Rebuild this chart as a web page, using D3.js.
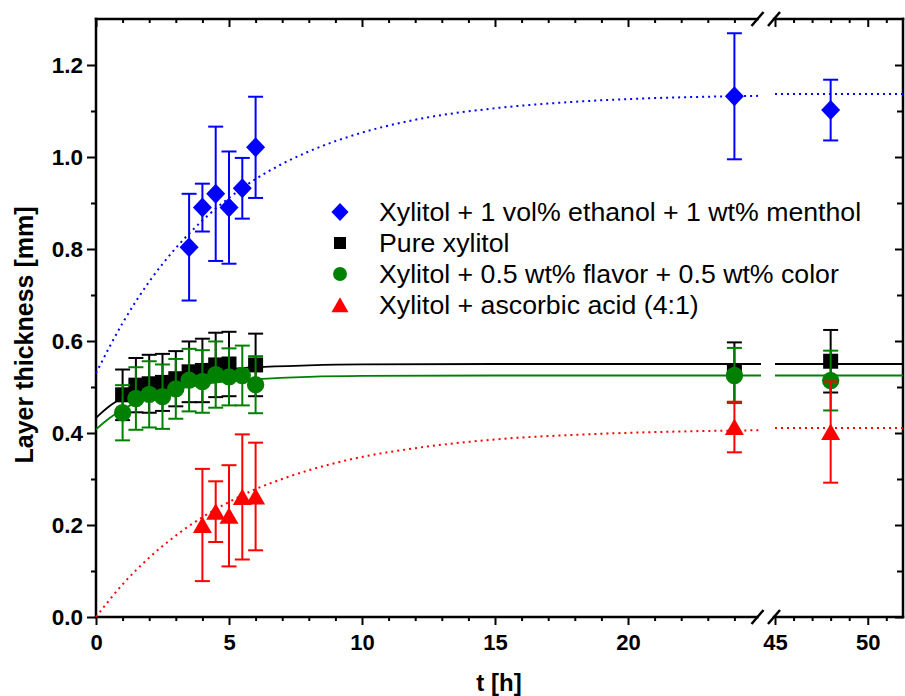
<!DOCTYPE html>
<html>
<head>
<meta charset="utf-8">
<script src="https://cdnjs.cloudflare.com/ajax/libs/d3/7.8.5/d3.min.js"></script>
<style>
  body { margin: 0; background: #fff; }
  svg text { font-family: "Liberation Sans", Arial, sans-serif; fill: #000; }
</style>
</head>
<body>
<div id="chart"></div>
<script>
// measured points (t in hours, thickness in mm, error = half length of bar)
var blueT = [3.5, 4, 4.5, 5, 5.5, 6, 24, 48];
var blueY = [0.804, 0.890, 0.920, 0.890, 0.932, 1.021, 1.132, 1.102];
var blueErr = [0.116, 0.052, 0.146, 0.122, 0.066, 0.110, 0.137, 0.066];

var blackT = [1, 1.5, 2, 2.5, 3, 3.5, 4, 4.5, 5, 6, 24, 48];
var blackY = [0.483, 0.504, 0.507, 0.510, 0.518, 0.533, 0.536, 0.548, 0.550, 0.548, 0.532, 0.556];
var blackErr = [0.055, 0.059, 0.063, 0.062, 0.060, 0.066, 0.069, 0.070, 0.070, 0.068, 0.065, 0.068];

var greenT = [1, 1.5, 2, 2.5, 3, 3.5, 4, 4.5, 5, 5.5, 6, 24, 48];
var greenY = [0.444, 0.475, 0.484, 0.479, 0.496, 0.515, 0.512, 0.527, 0.522, 0.525, 0.505, 0.525, 0.514];
var greenErr = [0.060, 0.068, 0.072, 0.070, 0.065, 0.068, 0.068, 0.072, 0.062, 0.065, 0.062, 0.060, 0.065];

var redT = [4, 4.5, 5, 5.5, 6, 24, 48];
var redY = [0.200, 0.229, 0.220, 0.261, 0.262, 0.413, 0.402];
var redErr = [0.122, 0.066, 0.110, 0.136, 0.117, 0.055, 0.110];

// fit curves
var fitLeftT = [0, 1, 2, 3, 4, 5, 6, 7, 8, 10, 12, 15, 18, 21, 25];
var fitBlueY = [0.530, 0.639, 0.729, 0.802, 0.862, 0.911, 0.952, 0.985, 1.012, 1.053, 1.081, 1.106, 1.120, 1.128, 1.133];
var fitRedY = [0.000, 0.071, 0.129, 0.177, 0.217, 0.250, 0.278, 0.300, 0.319, 0.348, 0.367, 0.386, 0.396, 0.402, 0.406];
var fitSolidT = [0, 0.5, 1, 1.5, 2, 3, 4, 5, 6, 8, 10, 15, 25];
var fitBlackY = [0.433, 0.458, 0.477, 0.493, 0.505, 0.522, 0.533, 0.539, 0.543, 0.547, 0.549, 0.550, 0.550];
var fitGreenY = [0.408, 0.432, 0.451, 0.466, 0.478, 0.495, 0.506, 0.513, 0.517, 0.522, 0.524, 0.525, 0.525];
var fitRightT = [45, 51.9];
var fitRightBlue = [1.137, 1.137];
var fitRightBlack = [0.550, 0.550];
var fitRightGreen = [0.525, 0.525];
var fitRightRed = [0.411, 0.411];

var legendLabels = [
  "Xylitol + 1 vol% ethanol + 1 wt% menthol",
  "Pure xylitol",
  "Xylitol + 0.5 wt% flavor + 0.5 wt% color",
  "Xylitol + ascorbic acid (4:1)"
];

var svgWidth = 905;
var svgHeight = 696;

var plotLeft = 96, plotRight = 903, plotTop = 19, plotBottom = 617;
var breakA = 757.5, breakB = 774;

var svg = d3.select("#chart")
  .append("svg")
  .attr("width", svgWidth)
  .attr("height", svgHeight);

// broken x axis: two linear pieces
var xLeft = d3.scaleLinear().domain([0, 25]).range([plotLeft, 761]);
var xRight = d3.scaleLinear().domain([45, 51.9]).range([775, plotRight]);
var yScale = d3.scaleLinear().domain([0, 1.3]).range([plotBottom, plotTop]);

function xOf(t) { return t <= 25 ? xLeft(t) : xRight(t); }

function styleAxis(g, fontSize) {
  g.select(".domain").remove();
  g.selectAll(".tick line").attr("stroke", "#000").attr("stroke-width", 2);
  g.selectAll(".tick text")
    .attr("font-family", "'Liberation Sans', Arial, sans-serif")
    .attr("font-weight", "bold")
    .attr("font-size", fontSize);
}

var notFive = function(d) { return d % 5 !== 0; };

// bottom axis
[[xLeft, [0, 5, 10, 15, 20], d3.range(1, 25).filter(notFive)],
 [xRight, [45, 50], [46, 47, 48, 49, 51]]].forEach(function(p) {
  svg.append("g")
    .attr("transform", `translate(0, ${plotBottom})`)
    .call(d3.axisBottom(p[0]).tickValues(p[1]).tickSize(8).tickPadding(9).tickFormat(d3.format("d")))
    .call(styleAxis, "22px");
  svg.append("g")
    .attr("transform", `translate(0, ${plotBottom})`)
    .call(d3.axisBottom(p[0]).tickValues(p[2]).tickSize(4).tickFormat(""))
    .call(styleAxis, "22px");
  // top mirror, ticks pointing in
  svg.append("g")
    .attr("transform", `translate(0, ${plotTop})`)
    .call(d3.axisBottom(p[0]).tickValues(p[1]).tickSize(8).tickFormat(""))
    .call(styleAxis, "22px");
  svg.append("g")
    .attr("transform", `translate(0, ${plotTop})`)
    .call(d3.axisBottom(p[0]).tickValues(p[2]).tickSize(4).tickFormat(""))
    .call(styleAxis, "22px");
});

var yMajor = [0, 0.2, 0.4, 0.6, 0.8, 1.0, 1.2];
var yMinor = [0.1, 0.3, 0.5, 0.7, 0.9, 1.1];

svg.append("g")
  .attr("transform", `translate(${plotLeft}, 0)`)
  .call(d3.axisLeft(yScale).tickValues(yMajor).tickSize(9).tickPadding(4).tickFormat(d3.format(".1f")))
  .call(styleAxis, "22.5px");
svg.append("g")
  .attr("transform", `translate(${plotLeft}, 0)`)
  .call(d3.axisLeft(yScale).tickValues(yMinor).tickSize(5).tickFormat(""))
  .call(styleAxis, "22px");
svg.append("g")
  .attr("transform", `translate(${plotRight}, 0)`)
  .call(d3.axisLeft(yScale).tickValues(yMajor).tickSize(8).tickFormat(""))
  .call(styleAxis, "22px");
svg.append("g")
  .attr("transform", `translate(${plotRight}, 0)`)
  .call(d3.axisLeft(yScale).tickValues(yMinor).tickSize(6).tickFormat(""))
  .call(styleAxis, "22px");

// frame
var frame = svg.append("g")
  .attr("stroke", "#000")
  .attr("stroke-width", 2.5)
  .attr("stroke-linecap", "square");
frame.append("line").attr("x1", plotLeft).attr("x2", plotLeft).attr("y1", plotTop).attr("y2", plotBottom);
frame.append("line").attr("x1", plotRight).attr("x2", plotRight).attr("y1", plotTop).attr("y2", plotBottom);
[plotTop, plotBottom].forEach(function(yy) {
  frame.append("line").attr("x1", plotLeft).attr("x2", breakA).attr("y1", yy).attr("y2", yy);
  frame.append("line").attr("x1", breakB).attr("x2", plotRight).attr("y1", yy).attr("y2", yy);
  [breakA, breakB].forEach(function(bx) {
    frame.append("line")
      .attr("stroke-linecap", "butt")
      .attr("x1", bx - 6).attr("y1", yy + 7)
      .attr("x2", bx + 6).attr("y2", yy - 7);
  });
});

// fit curves
var line = d3.line()
  .x(d => xOf(d[0]))
  .y(d => yScale(d[1]))
  .curve(d3.curveMonotoneX);

var fits = [
  {t: fitLeftT, y: fitBlueY, r: fitRightBlue, color: "#0000ff", dash: "2,4"},
  {t: fitSolidT, y: fitBlackY, r: fitRightBlack, color: "#000000", dash: null},
  {t: fitSolidT, y: fitGreenY, r: fitRightGreen, color: "#008000", dash: null},
  {t: fitLeftT, y: fitRedY, r: fitRightRed, color: "#ff0000", dash: "2,4"}
];

fits.forEach(function(f) {
  var left = f.t.map((t, i) => [t, f.y[i]]);
  var right = fitRightT.map((t, i) => [t, f.r[i]]);
  [left, right].forEach(function(pts) {
    svg.append("path")
      .datum(pts)
      .attr("d", line)
      .attr("fill", "none")
      .attr("stroke", f.color)
      .attr("stroke-width", f.dash ? 2 : 1.8)
      .attr("stroke-dasharray", f.dash);
  });
});

// marker shapes
function markerPath(shape) {
  if (shape === "diamond") return "M0,-10L9.5,0L0,10L-9.5,0Z";
  if (shape === "square") return "M-7.5,-7.5H7.5V7.5H-7.5Z";
  if (shape === "triangle") return "M0,-8.5L9.5,8L-9.5,8Z";
  return "M-8.7,0A8.7,8.7 0 1,0 8.7,0A8.7,8.7 0 1,0 -8.7,0Z";
}

var series = [
  {t: blueT, y: blueY, e: blueErr, color: "#0000ff", shape: "diamond"},
  {t: blackT, y: blackY, e: blackErr, color: "#000000", shape: "square"},
  {t: greenT, y: greenY, e: greenErr, color: "#008000", shape: "circle"},
  {t: redT, y: redY, e: redErr, color: "#ff0000", shape: "triangle"}
];

series.forEach(function(s) {
  var data = s.t.map((t, i) => ({t: t, v: s.y[i], e: s.e[i]}));
  var g = svg.append("g");

  var bars = g.selectAll(".bar")
    .data(data)
    .enter()
    .append("g")
    .attr("stroke", s.color)
    .attr("stroke-width", 2);
  bars.append("line")
    .attr("x1", d => xOf(d.t)).attr("x2", d => xOf(d.t))
    .attr("y1", d => yScale(d.v + d.e)).attr("y2", d => yScale(d.v - d.e));
  bars.append("line")
    .attr("x1", d => xOf(d.t) - 7.5).attr("x2", d => xOf(d.t) + 7.5)
    .attr("y1", d => yScale(d.v + d.e)).attr("y2", d => yScale(d.v + d.e));
  bars.append("line")
    .attr("x1", d => xOf(d.t) - 7.5).attr("x2", d => xOf(d.t) + 7.5)
    .attr("y1", d => yScale(d.v - d.e)).attr("y2", d => yScale(d.v - d.e));

  g.selectAll(".pt")
    .data(data)
    .enter()
    .append("path")
    .attr("d", markerPath(s.shape))
    .attr("transform", d => `translate(${xOf(d.t)}, ${yScale(d.v)})`)
    .attr("fill", s.color);
});

// legend
var legend = svg.append("g");
series.forEach(function(s, i) {
  var ly = 212 + i * 31;
  legend.append("path")
    .attr("d", markerPath(s.shape))
    .attr("transform", `translate(340, ${ly})` + (s.shape === "circle" || s.shape === "square" ? " scale(0.8)" : " scale(0.9)"))
    .attr("fill", s.color);
  legend.append("text")
    .attr("x", 379)
    .attr("y", ly + 9)
    .attr("font-size", "26.7px")
    .text(legendLabels[i]);
});

// axis titles
svg.append("text")
  .attr("transform", "translate(33, 335) rotate(-90)")
  .attr("text-anchor", "middle")
  .attr("font-size", "25px")
  .attr("font-weight", "bold")
  .text("Layer thickness [mm]");

svg.append("text")
  .attr("x", 499)
  .attr("y", 691)
  .attr("text-anchor", "middle")
  .attr("font-size", "24px")
  .attr("font-weight", "bold")
  .text("t [h]");
</script>
</body>
</html>
